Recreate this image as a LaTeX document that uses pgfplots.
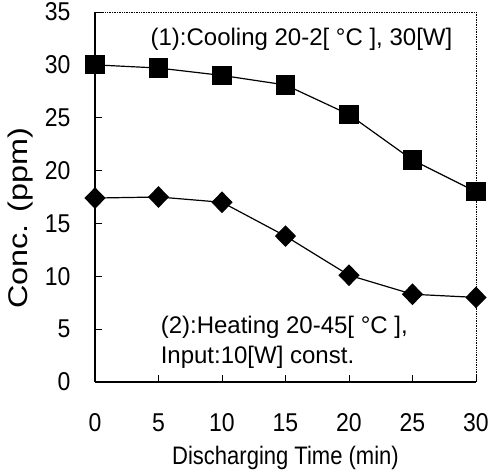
\documentclass[border=0pt]{standalone}
\usepackage{pgfplots}
\pgfplotsset{compat=1.18}
\usepackage{fontspec}
\setmainfont{Liberation Sans}
\begin{document}
\begin{tikzpicture}
\path[use as bounding box] (0,0) rectangle (491pt,473pt);
\begin{axis}[
 at={(95pt,91pt)}, anchor=south west,
 scale only axis, width=381pt, height=370pt,
 xmin=0,xmax=30,ymin=0,ymax=35,
 xtick={0,5,...,30}, ytick={0,5,...,35},
 axis x line*=bottom, axis y line*=left,
 axis line style={line width=1.2pt,-},
 tick align=inside, major tick length=7pt,
 tick style={black, line width=0.8pt},
 ticklabel style={font=\fontsize{23}{28}\selectfont, yscale=1.12},
 /pgf/number format/assume math mode=true,
 xticklabel style={yshift=-25pt},
 yticklabel style={xshift=-21pt},
 xlabel={Discharging Time (min)}, ylabel={Conc. (ppm)},
 xlabel style={font=\fontsize{22}{26}\selectfont, yscale=1.15, at={(axis description cs:0.5,-0.205)}, anchor=center},
 ylabel style={font=\fontsize{27}{32}\selectfont, at={(axis description cs:-0.195,0.443)}, anchor=center, rotate=0, xscale=1.2},
 clip=false,
]
\draw[densely dotted, line width=0.7pt] (rel axis cs:0,1) -- (rel axis cs:1,1) -- (rel axis cs:1,0);
\addplot[black, sharp plot, line width=1.2pt, mark=square*, mark size=9pt] coordinates {
 (0,30.0) (5,29.7) (10,29.0) (15,28.1) (20,25.3) (25,21.0) (30,18.0)};
\addplot[black, sharp plot, line width=1.2pt, mark=diamond*, mark size=10pt, mark options={xscale=1.3}] coordinates {
 (0,17.4) (5,17.5) (10,17.0) (15,13.8) (20,10.1) (25,8.3) (30,8.0)};
\node[anchor=west, font=\fontsize{24}{28}\selectfont] at (axis cs:4.1,32.4) {(1):Cooling 20-2[ °C ], 30[W]};
\node[anchor=west, align=left, font=\fontsize{24}{30}\selectfont] at (axis cs:4.9,3.8) {(2):Heating 20-45[ °C ],\\Input:10[W] const.};
\end{axis}
\end{tikzpicture}
\end{document}
